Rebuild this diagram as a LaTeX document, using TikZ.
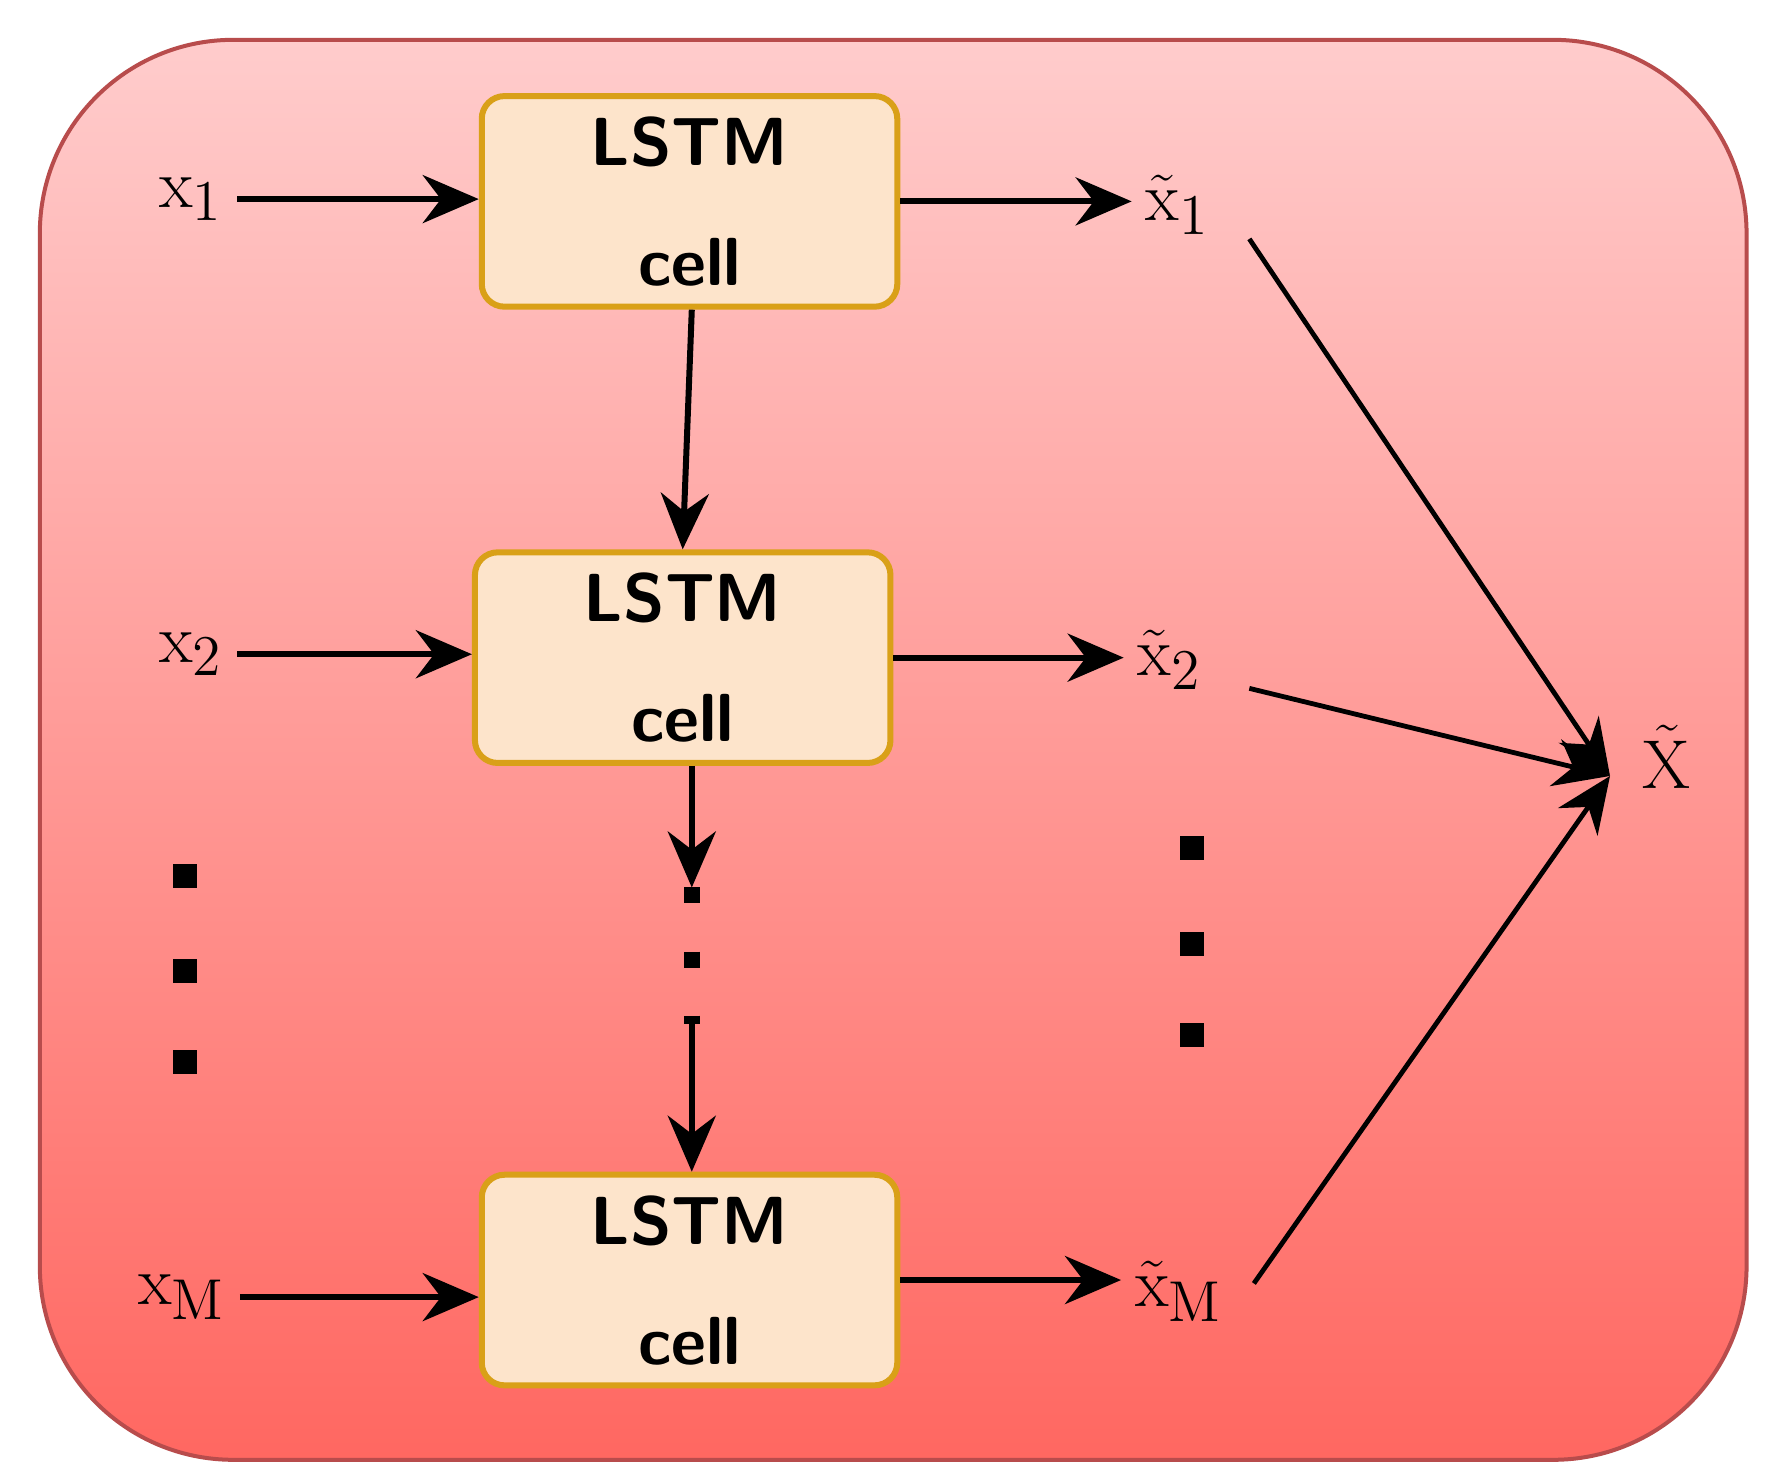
\documentclass[tikz,border=0pt]{standalone}
\usetikzlibrary{arrows.meta}
\definecolor{cellbd}{HTML}{D9A018}
\definecolor{cellfill}{HTML}{FDE4CB}
\begin{document}
\begin{tikzpicture}[x=0.01cm,y=-0.01cm,
 cell/.style={draw=cellbd,line width=1.5pt,fill=cellfill,rounded corners=0.2cm,minimum width=3.65cm,minimum height=1.85cm,align=center,font=\sffamily\bfseries\fontsize{17}{30}\selectfont},
 lab/.style={font=\fontsize{19}{22}\selectfont},
 arr/.style={-{Stealth[length=14pt,width=12pt]},line width=1.5pt},
 ln/.style={-{Stealth[length=14pt,width=12pt]},line width=1.2pt},
 dot/.style={fill=black,minimum size=6pt,inner sep=0pt}]
\useasboundingbox (0,0) rectangle (1560,1304);
\shade[top color=red!20!white,bottom color=red!60!white!95!orange,draw=red!60!black!70,line width=1pt,rounded corners=1.7cm] (35,35) rectangle (1535,1283);
\node[cell] (c1) at (606,177) {LSTM\\cell};
\node[cell] (c2) at (600,578) {LSTM\\cell};
\node[cell] (c3) at (606,1125) {LSTM\\cell};
\node[lab] (x1) at (168,175) {$\mathrm{x}_1$};
\node[lab] (x2) at (168,575) {$\mathrm{x}_2$};
\node[lab] (xM) at (160,1140) {$\mathrm{x}_\mathrm{M}$};
\node[lab] (y1) at (1035,180) {$\tilde{\mathrm{x}}_1$};
\node[lab] (y2) at (1028,580) {$\tilde{\mathrm{x}}_2$};
\node[lab] (yM) at (1036,1135) {$\tilde{\mathrm{x}}_\mathrm{M}$};
\node[lab] (X) at (1465,665) {$\tilde{\mathrm{X}}$};
\coordinate (t) at (1415,682);
\draw[arr] (x1.east) -- (x1.east -| c1.west);
\draw[arr] (x2.east) -- (x2.east -| c2.west);
\draw[arr] (xM.east) -- (xM.east -| c3.west);
\draw[arr] (c1.east) -- (c1.east -| y1.west);
\draw[arr] (c2.east) -- (c2.east -| y2.west);
\draw[arr] (c3.east) -- (c3.east -| yM.west);
\draw[arr] (c1.south) ++(2,0) -- (c2.north);
\coordinate (m1) at (608,780);
\coordinate (m2) at (608,900);
\draw[arr] (c2.south -| m1) -- (m1);
\draw[line width=4pt,dash pattern=on 4pt off 12pt] (m1) -- (m2);
\draw[arr] (m2) -- (c3.north -| m2);
\draw[ln] (1098,210) -- (t);
\draw[ln] (1098,605) -- (t);
\draw[ln] (1102,1128) -- (t);
\foreach \y in {770,853,933} \node[dot] at (163,\y) {};
\foreach \y in {745,830,910} \node[dot] at (1048,\y) {};
\end{tikzpicture}
\end{document}
